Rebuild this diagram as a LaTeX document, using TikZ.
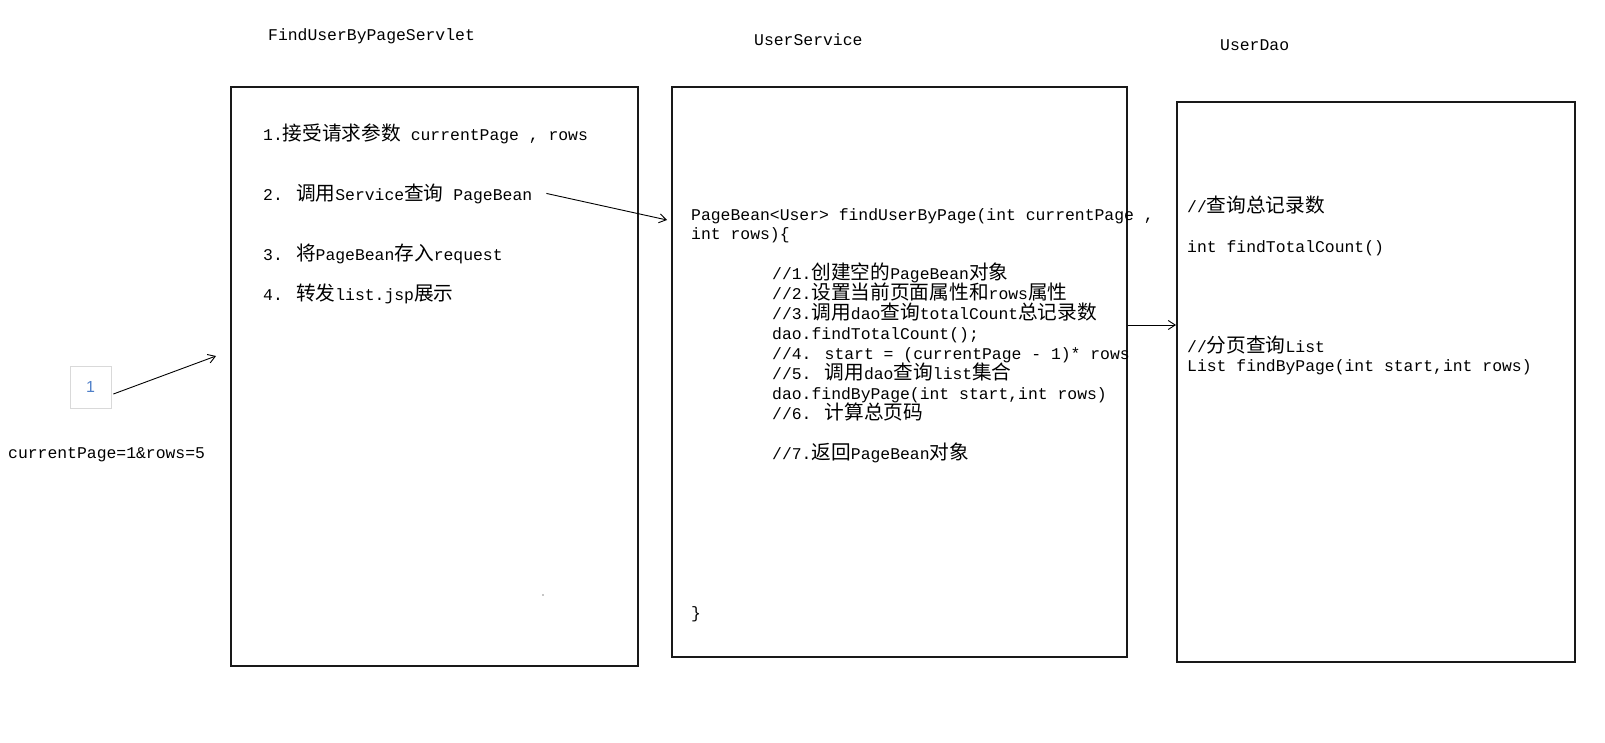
\documentclass[tikz,border=0pt]{standalone}
\usepackage{fontspec}
\setmainfont{Liberation Mono}
\newfontfamily\cjk[Scale=1.2]{Noto Sans CJK SC}
\newfontfamily\sansf{Liberation Sans}
\usetikzlibrary{arrows.meta}
\definecolor{numblue}{HTML}{4F7FC8}
\begin{document}
\begin{tikzpicture}[x=1pt,y=-1pt,
  box/.style={draw=black!90, line width=1.5pt, anchor=north west, inner sep=0},
  txt/.style={anchor=base west, inner sep=0, font=\fontsize{16.4}{20}\selectfont},
  conn/.style={-{Straight Barb[length=7pt,width=9pt]}, line width=0.9pt}]
\useasboundingbox (0,0) rectangle (1605,742);

% titles
\node[txt] (ttl1) at (268,40) {FindUserByPageServlet};
\node[txt] (ttl2) at (754,45) {UserService};
\node[txt] (ttl3) at (1220,50) {UserDao};

% boxes
\node[box, minimum width=407pt, minimum height=579pt] (servlet) at (230,86) {};
\node[box, minimum width=455pt, minimum height=570pt] (svc) at (671,86) {};
\node[box, minimum width=398pt, minimum height=560pt] (dao) at (1176,101) {};

% small box
\node[draw=black!15, line width=0.8pt, minimum width=41pt, minimum height=42pt, inner sep=0,
      text=numblue, font=\sansf\fontsize{16}{18}\selectfont] (one) at (90.5,387) {1};
\node[txt] (param) at (8,458) {currentPage=1\&rows=5};

% servlet text
\node[txt] (t1) at (263,140) {1.{\cjk 接受请求参数} currentPage , rows};
\node[txt] (t2) at (263,200) {2. {\cjk 调用}Service{\cjk 查询} PageBean};
\node[txt] (t3) at (263,260) {3. {\cjk 将}PageBean{\cjk 存入}request};
\node[txt] (t4) at (263,300) {4. {\cjk 转发}list.jsp{\cjk 展示}};

% service text
\node[txt] (s0) at (691,220) {PageBean<User> findUserByPage(int currentPage ,};
\node[txt] (s1) at (691,239) {int rows)\{};
\node[txt] (s2) at (772,279) {//1.{\cjk 创建空的}PageBean{\cjk 对象}};
\node[txt] (s3) at (772,299) {//2.{\cjk 设置当前页面属性和}rows{\cjk 属性}};
\node[txt] (s4) at (772,319) {//3.{\cjk 调用}dao{\cjk 查询}totalCount{\cjk 总记录数}};
\node[txt] (s5) at (772,339) {dao.findTotalCount();};
\node[txt] (s6) at (772,359) {//4. start = (currentPage - 1)* rows};
\node[txt] (s7) at (772,379) {//5. {\cjk 调用}dao{\cjk 查询}list{\cjk 集合}};
\node[txt] (s8) at (772,399) {dao.findByPage(int start,int rows)};
\node[txt] (s9) at (772,419) {//6. {\cjk 计算总页码}};
\node[txt] (s10) at (772,459) {//7.{\cjk 返回}PageBean{\cjk 对象}};
\node[txt] (s11) at (691,618) {\}};

% dao text
\node[txt] (d1) at (1187,212) {//{\cjk 查询总记录数}};
\node[txt] (d2) at (1187,252) {int findTotalCount()};
\node[txt] (d3) at (1187,352) {//{\cjk 分页查询}List};
\node[txt] (d4) at (1187,371) {List findByPage(int start,int rows)};

% stray dot
\fill[black!45] (543,595) circle (0.8);

% connectors
\coordinate (a1end) at (216,356);
\draw[conn] ([shift={(2,7)}]one.east) -- (a1end);
\coordinate (a2end) at (667,220);
\draw[conn] ([shift={(14,0)}]t2.east) -- (a2end);
\coordinate (y325) at (0,325);
\draw[conn] (svc.east |- y325) -- (dao.west |- y325);
\end{tikzpicture}
\end{document}
